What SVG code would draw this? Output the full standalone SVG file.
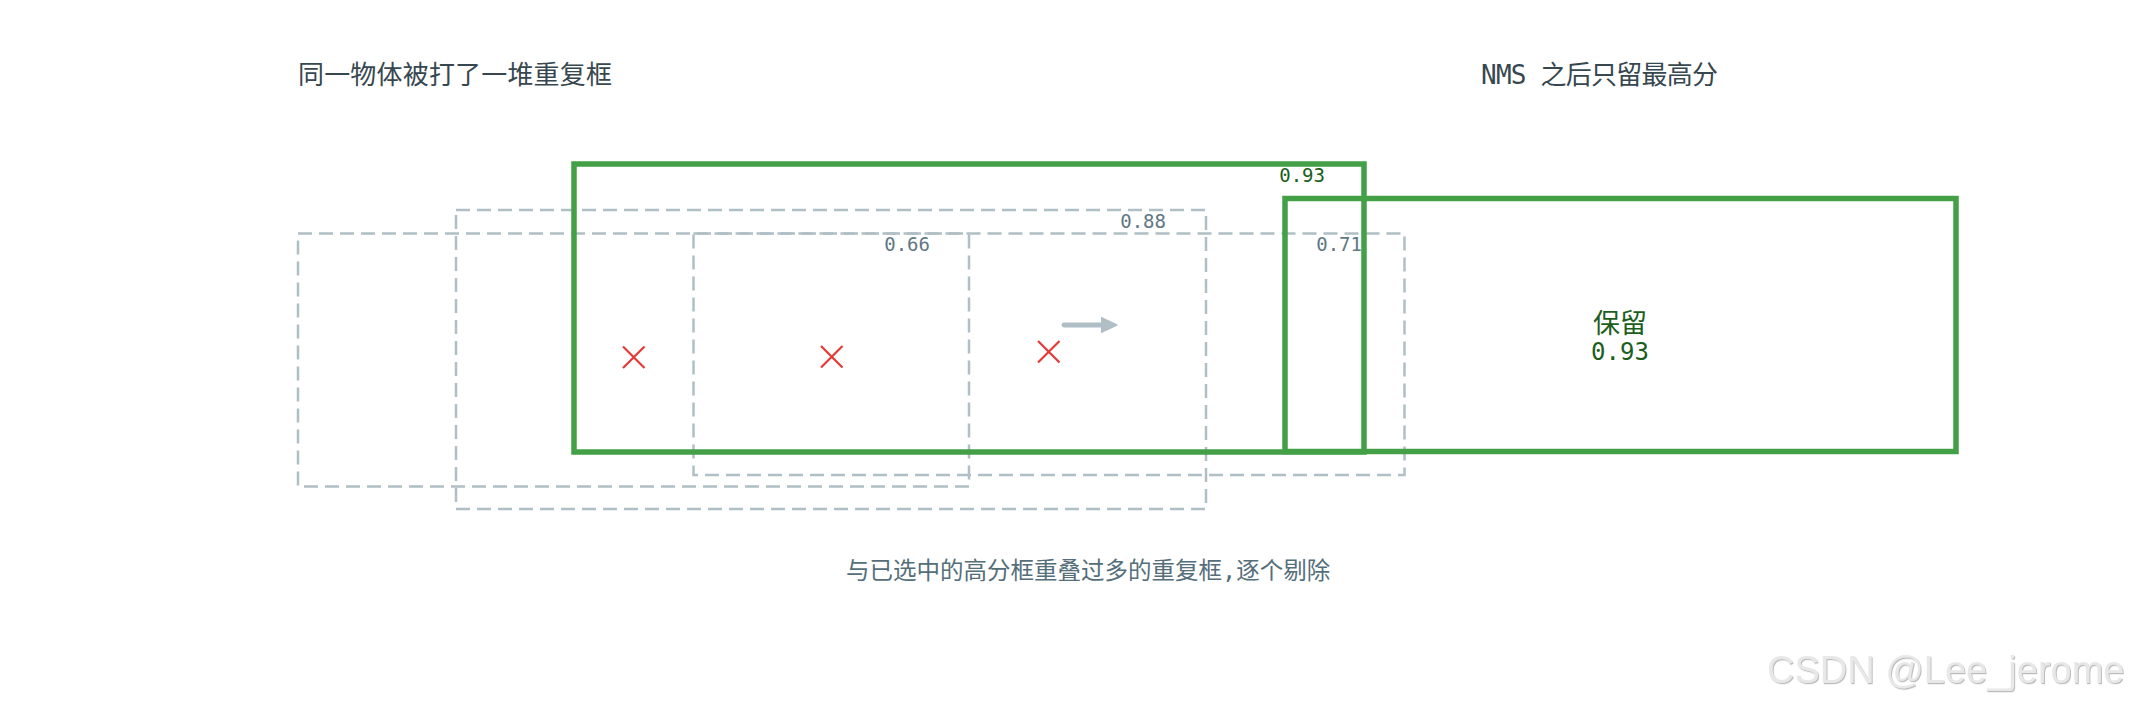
<svg xmlns="http://www.w3.org/2000/svg" width="2135" height="706" viewBox="0 0 2135 706">
  <style>
    .t { font-family: "DejaVu Sans Mono", "Noto Sans CJK SC", monospace; }
    .title { font-size: 26px; fill: #37474f; }
    .title2 { font-size: 26px; fill: #37474f; }
    .cap { font-size: 23.5px; fill: #546e7a; }
    .lbl { font-size: 19px; fill: #5f7784; }
    .glbl { font-size: 19px; fill: #1b5e20; }
    .big { fill: #1b5e20; text-anchor: middle; }
    .dash { fill: none; stroke: #b0bec5; stroke-width: 2.5; stroke-dasharray: 14 7; }
    .keep { fill: none; stroke: #43a047; stroke-width: 5.5; }
    .x { stroke: #e53935; stroke-width: 2.2; fill: none; }
    .wm { font-family: "Liberation Sans", Arial, sans-serif; font-size: 38px; fill: #e8e8e8; }
  </style>
  <defs>
    <marker id="ah" viewBox="0 0 10 10" refX="6" refY="5" markerWidth="3.4" markerHeight="3.4" orient="auto" markerUnits="strokeWidth">
      <path d="M0,0.5 L9.5,5 L0,9.5 Z" fill="#b0bec5" stroke="#b0bec5" stroke-width="1" stroke-linejoin="round"/>
    </marker>
    <filter id="emb" x="-5%" y="-20%" width="110%" height="140%">
      <feDropShadow dx="1" dy="1.2" stdDeviation="0.6" flood-color="#9e9e9e" flood-opacity="0.7"/>
    </filter>
  </defs>
  <rect width="2135" height="706" fill="#ffffff"/>

  <g id="title-left"><text class="t title" x="298" y="84" textLength="314" lengthAdjust="spacing">同一物体被打了一堆重复框</text></g>
  <g id="title-right"><text class="t title2" x="1481" y="84" textLength="237" lengthAdjust="spacing">NMS 之后只留最高分</text></g>

  <g id="box-a">
    <rect class="dash" x="298" y="233.5" width="671" height="253"/>
    <text class="t lbl" x="930" y="251" text-anchor="end">0.66</text>
  </g>
  <g id="box-b">
    <rect class="dash" x="456" y="210" width="750" height="299"/>
    <text class="t lbl" x="1166" y="228" text-anchor="end">0.88</text>
  </g>
  <g id="box-c">
    <rect class="dash" x="693.5" y="233.5" width="711" height="241.5"/>
    <text class="t lbl" x="1362" y="251" text-anchor="end">0.71</text>
  </g>
  <g id="box-top">
    <rect class="keep" x="574" y="164" width="790" height="288"/>
    <text class="t glbl" x="1325" y="182" text-anchor="end">0.93</text>
  </g>

  <g id="reject-marks">
    <path class="x" d="M623,346.5 L644.5,368 M644.5,346.5 L623,368"/>
    <path class="x" d="M821,346 L842.5,367.5 M842.5,346 L821,367.5"/>
    <path class="x" d="M1038,341 L1059.5,362.5 M1059.5,341 L1038,362.5"/>
  </g>

  <g id="connectors">
    <line x1="1064" y1="325" x2="1111" y2="325" stroke="#b0bec5" stroke-width="4.8" stroke-linecap="round" marker-end="url(#ah)"/>
  </g>

  <g id="box-kept">
    <rect class="keep" x="1285" y="198.5" width="671" height="253"/>
    <text class="t big" x="1620" y="333" font-size="27">保留</text>
    <text class="t big" x="1620" y="360" font-size="24">0.93</text>
  </g>

  <g id="caption"><text class="t cap" x="846" y="579">与已选中的高分框重叠过多的重复框,逐个剔除</text></g>

  <g id="watermark"><text class="wm" x="1767" y="683" filter="url(#emb)">CSDN @Lee_jerome</text></g>
</svg>
